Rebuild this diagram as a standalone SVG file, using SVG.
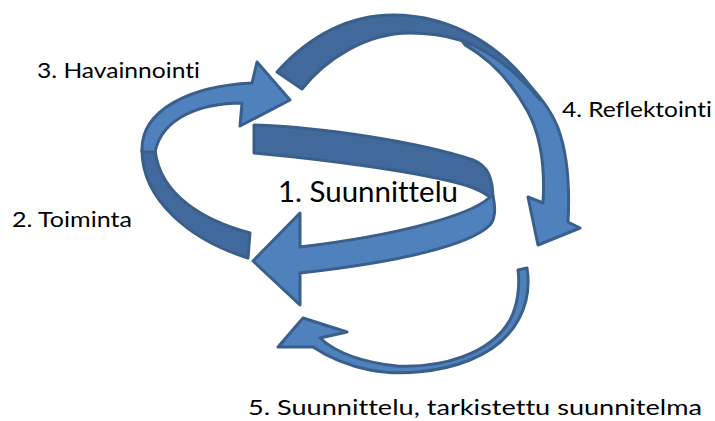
<svg xmlns="http://www.w3.org/2000/svg" width="715" height="421" viewBox="0 0 715 421">
<style>
.lt{fill:#4f81bd;stroke:#3a5f8b;stroke-width:3;stroke-linejoin:round}
.dk{fill:#41699b;stroke:#3a5f8b;stroke-width:3;stroke-linejoin:round}
.lbl{font-family:Lato,"Open Sans","Liberation Sans",sans-serif;font-size:21px;fill:#000;font-variant-ligatures:none;font-feature-settings:"liga" 0}
.big{font-size:28px}
</style>
<rect width="715" height="421" fill="#fff"/>
<g id="arrows">
 <g id="arrow-reflektointi">
  <path class="lt" d="M460,38 C505,55 545,95 558,128 C568,155 570,185 568,222 L580,228 L538,245 L528,197 L543,203 C545,170 542,138 528,112 C515,88 495,62 465,45 Z"/>
  <path class="dk" d="M277,72 C310,35 350,15 393,15 C450,15 505,45 540,100 C515,70 490,50 460,40 C440,34 425,33 410,33 C365,33 325,60 302,89 Z"/>
 </g>
 <g id="arrow-havainnointi">
  <path class="dk" d="M250,233 C205,221 160,196 155,150 L142,150 C142,200 190,240 248,258 Z"/>
  <path class="lt" d="M142,152 C140,110 190,86 252,83 L257,62 L290,100 L240,126 L242,103 C200,103 162,118 155,152 Z"/>
 </g>
 <g id="arrow-suunnittelu">
  <path class="dk" d="M254,125 C320,127 420,142 473,160 C488,166 493,178 493,200 C485,192 475,188 465,185 C420,172 330,160 254,153 Z"/>
  <path class="lt" d="M489,198 C470,215 400,235 300,247 L300,213 L253,261 L300,305 L300,273 C400,262 470,245 490,225 C496,218 495,205 493,196 Z"/>
 </g>
 <g id="arrow-suunnittelu-5">
  <path class="lt" d="M527,268 C532,300 520,340 470,360 C440,372 400,376 370,370 C345,365 325,355 313,347 L278,347 L303,318 L347,332 L320,338 C335,352 360,362 397,366 C440,368 490,355 510,320 C518,305 520,285 518,270 Z"/>
 </g>
</g>
<g id="label-1"><text class="lbl big" x="278" y="202" textLength="180" lengthAdjust="spacingAndGlyphs">1. Suunnittelu</text></g>
<g id="label-2"><text class="lbl" x="12" y="227" textLength="120" lengthAdjust="spacingAndGlyphs">2. Toiminta</text></g>
<g id="label-3"><text class="lbl" x="37" y="78" textLength="163" lengthAdjust="spacingAndGlyphs">3. Havainnointi</text></g>
<g id="label-4"><text class="lbl" x="562" y="117" textLength="150" lengthAdjust="spacingAndGlyphs">4. Reflektointi</text></g>
<g id="label-5"><text class="lbl" x="248" y="415" textLength="454" lengthAdjust="spacingAndGlyphs">5. Suunnittelu, tarkistettu suunnitelma</text></g>
</svg>
